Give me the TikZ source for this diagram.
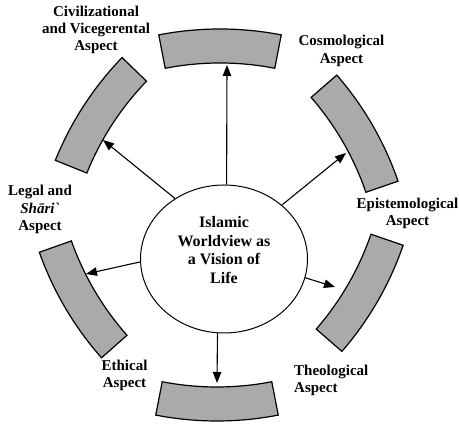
\documentclass[tikz,border=0pt]{standalone}
\usepackage{fontspec}
\setmainfont{Liberation Serif}
\usetikzlibrary{arrows.meta, shapes.geometric}
\definecolor{bandGray}{RGB}{170,170,170}

\begin{document}
\begin{tikzpicture}[
    x=1pt, y=1pt,
    band/.pic={\draw[line width=1.2pt, fill=bandGray] ([shift={(-304,0)}]-11:321) arc[start angle=-11, end angle=11, radius=321] -- ([shift={(-304,0)}]11:287) arc[start angle=11, end angle=-11, radius=287] -- cycle;},
    aspect/.style={font=\bfseries\fontsize{15}{17.2}\selectfont, align=center, inner sep=0pt},
    vision/.style={ellipse, draw, line width=1pt, minimum width=167pt, minimum height=148pt, inner sep=0pt, align=center, font=\bfseries\fontsize{16}{18.5}\selectfont, text depth=18pt},
    spoke/.style={-{Triangle[length=11pt, width=8.5pt]}, line width=1.1pt}
]
\useasboundingbox (0,0) rectangle (459,425);

% the six aspect bands
\pic[rotate=90] at (220,379) {band};
\pic[rotate=30] at (357.8,291.3) {band};
\pic[rotate=-30] at (362.9,132.2) {band};
\pic[rotate=-90] at (217,21) {band};
\pic[rotate=210.5] at (80,125.6) {band};
\pic[rotate=147] at (98,310) {band};

\node[vision] (worldview) at (224,166) {Islamic\\Worldview as\\a Vision of\\Life};

\node[aspect] (civil) at (96,395) {Civilizational\\and Vicegerental\\Aspect};
\node[aspect] (cosmo) at (341.5,374) {Cosmological\\Aspect};
\node[aspect] (episte) at (407.5,211.5) {Epistemological\\Aspect};
\node[aspect, align=left, anchor=west] (theo) at (294,45) {Theological\\Aspect};
\node[aspect] (ethic) at (124.5,49.5) {Ethical\\Aspect};
\node[aspect] (legal) at (40,215.5) {Legal and\\\textit{Shāri\textasciigrave}\\Aspect};

% arrow ends at the bands
\coordinate (tipTop) at (227,360);
\coordinate (tipUpLeft) at (103,285);
\coordinate (tipUpRight) at (346,272);
\coordinate (tipLeft) at (86,151);
\coordinate (tipLowRight) at (335,138);
\coordinate (tipBottom) at (217,42);

\draw[spoke] (worldview.88) -- (tipTop);
\draw[spoke] (worldview.129) -- (tipUpLeft);
\draw[spoke] (worldview.43) -- (tipUpRight);
\draw[spoke] (worldview.182) -- (tipLeft);
\draw[spoke] (worldview.347.5) -- (tipLowRight);
\draw[spoke] (worldview.265) -- (tipBottom);
\end{tikzpicture}
\end{document}
